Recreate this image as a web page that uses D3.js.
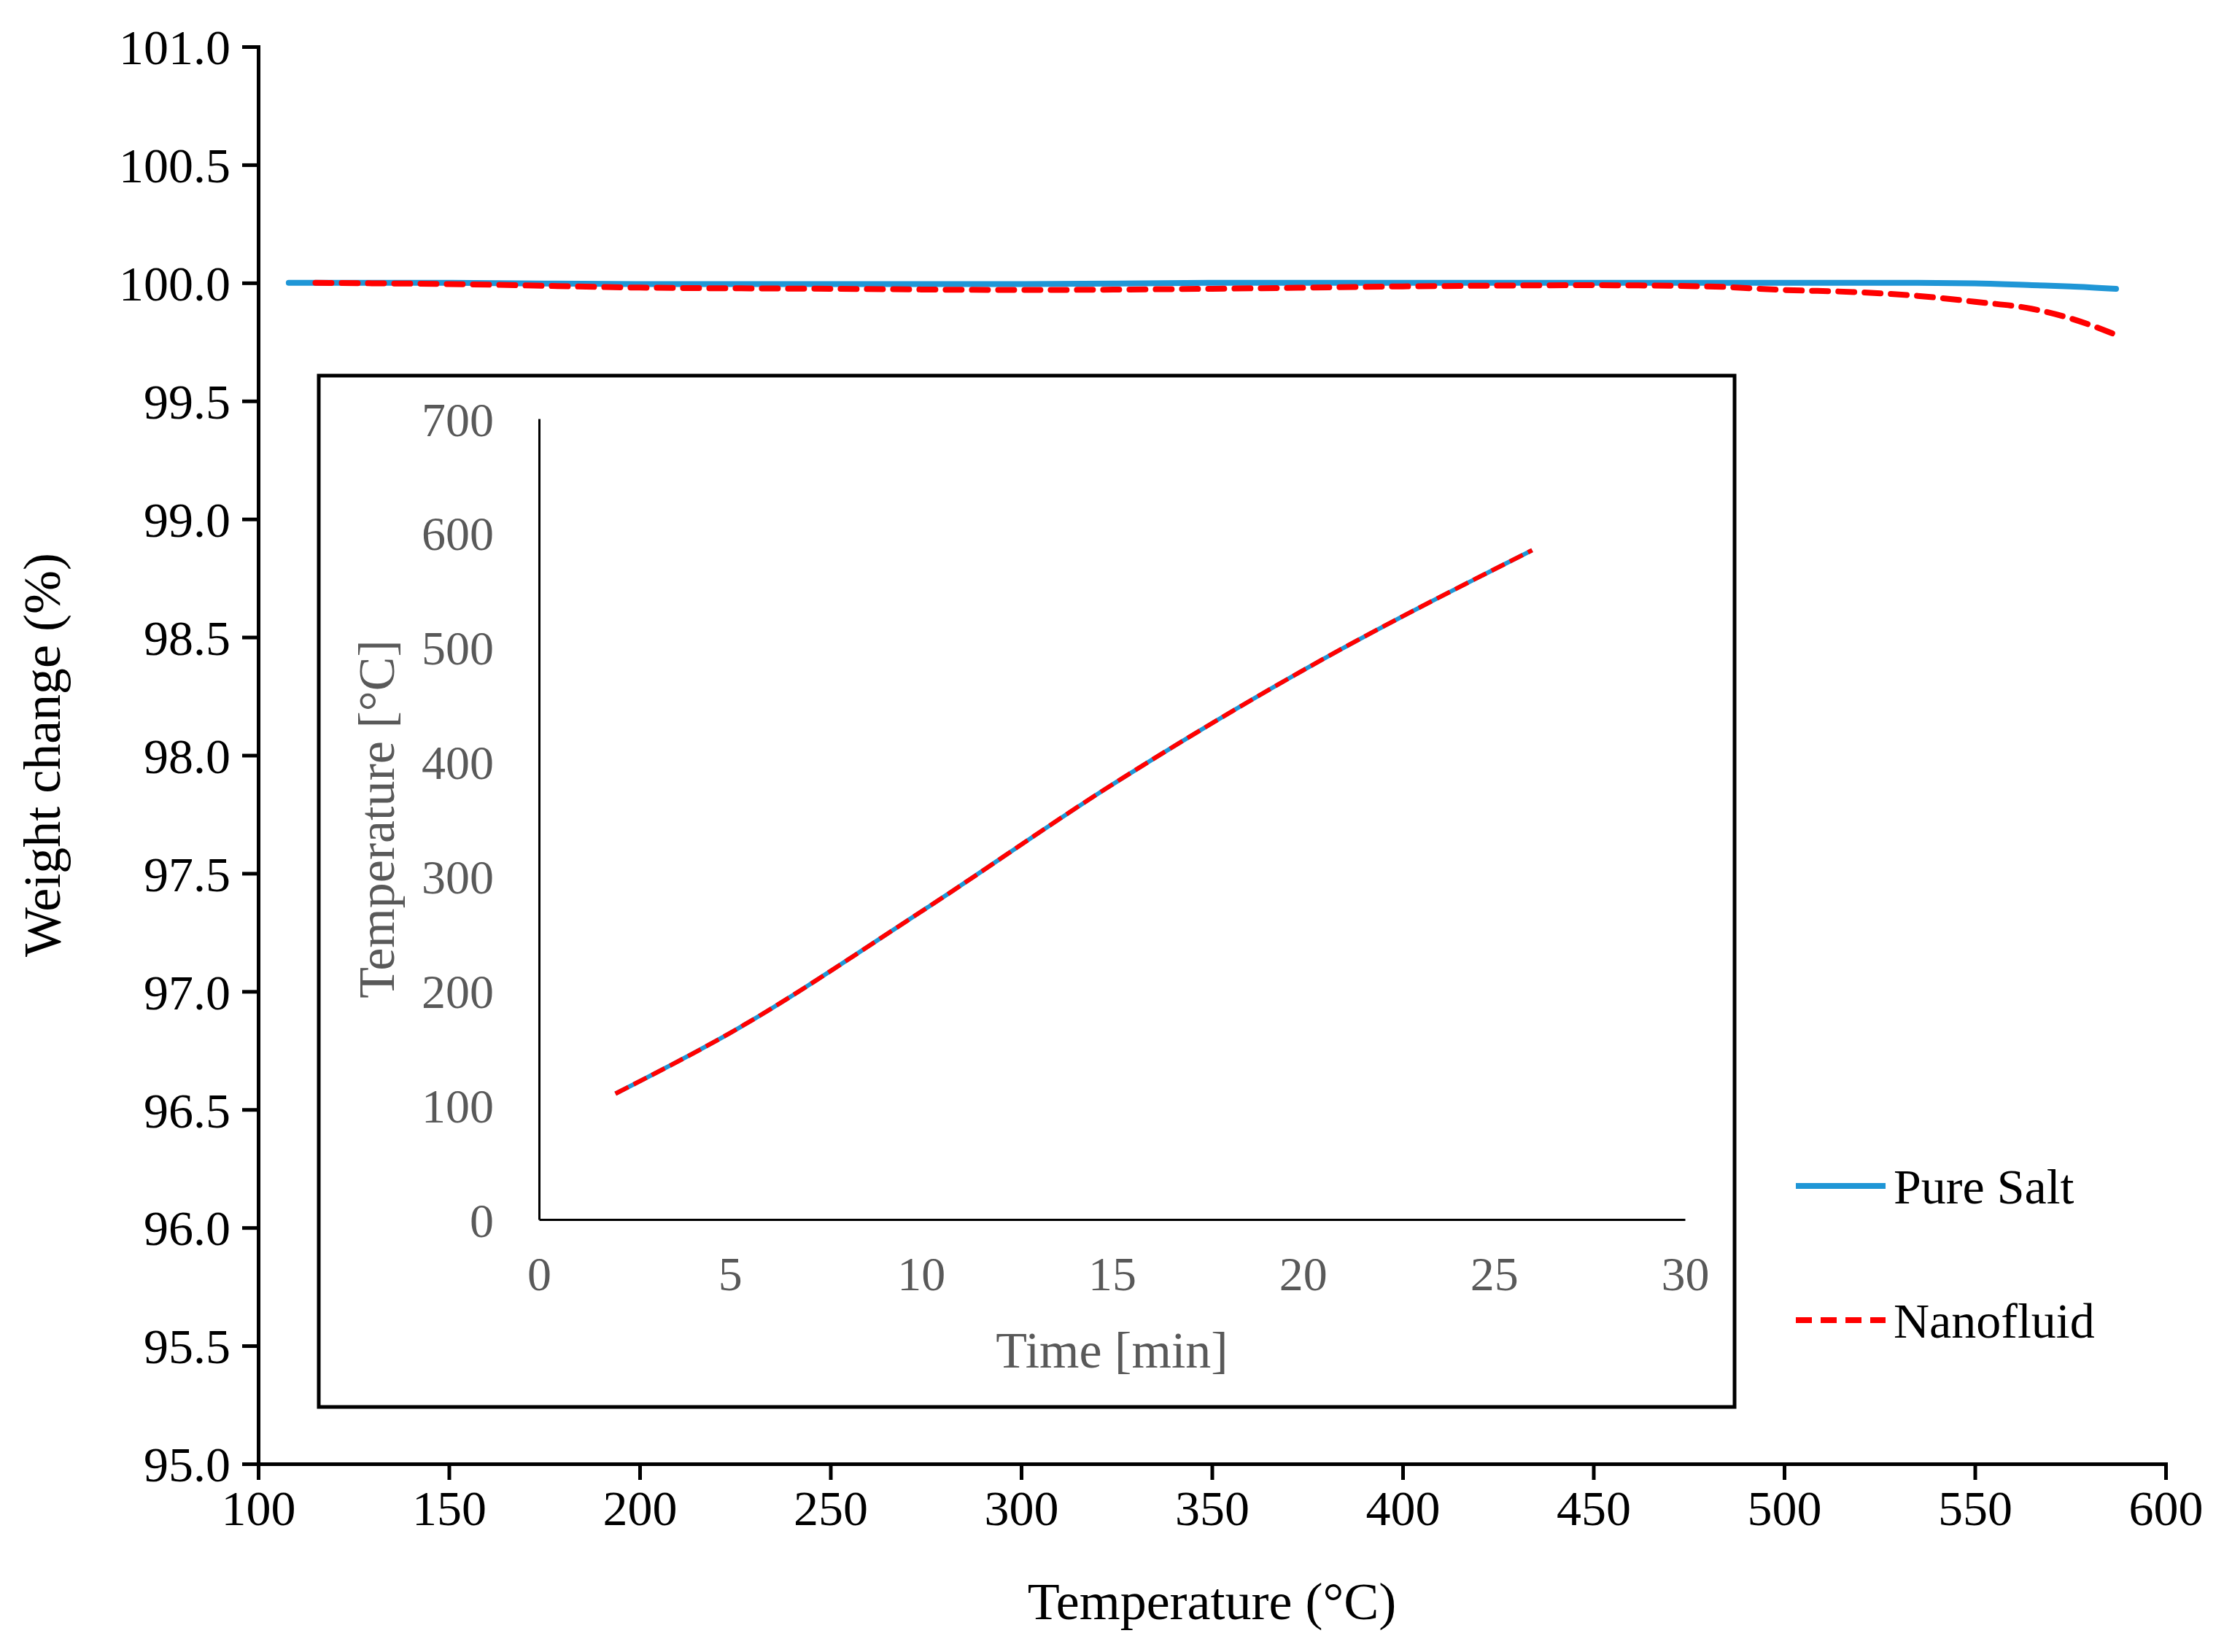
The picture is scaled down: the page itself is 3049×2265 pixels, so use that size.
<!DOCTYPE html>
<html><head><meta charset="utf-8">
<script src="https://cdn.jsdelivr.net/npm/d3@7"></script>
<style>body{margin:0;background:#fff} text{font-family:"Liberation Serif","Times New Roman",serif}</style>
</head><body><div class="container"></div>
<script>
const w = 3049
const h = 2265

// main chart data (Temperature °C -> weight %)
const saltTemp = [108, 150, 200, 250, 300, 350, 400, 450, 500, 530, 550, 565, 575, 587]
const saltWeight = [100.0, 100.0, 99.995, 99.995, 99.995, 100.0, 100.0, 100.0, 100.0, 100.0, 99.998, 99.99, 99.985, 99.975]
const nanoTemp = [115, 150, 200, 250, 300, 350, 400, 450, 480, 500, 520, 535, 550, 565, 575, 587]
const nanoWeight = [100.0, 99.995, 99.98, 99.975, 99.97, 99.975, 99.985, 99.99, 99.985, 99.97, 99.96, 99.945, 99.92, 99.89, 99.85, 99.78]
const xTicks = [100, 150, 200, 250, 300, 350, 400, 450, 500, 550, 600]
const yTicks = [95, 95.5, 96, 96.5, 97, 97.5, 98, 98.5, 99, 99.5, 100, 100.5, 101]

// inset data (time min -> temperature °C)
const insetTime = [2, 5, 10, 15, 20, 26]
const insetTemp = [110, 163, 269, 380, 480, 585]
const insetXTicks = [0, 5, 10, 15, 20, 25, 30]
const insetYTicks = [0, 100, 200, 300, 400, 500, 600, 700]

const svg = d3.select(".container").append("svg").attr("width", w).attr("height", h)

const x = d3.scaleLinear().domain([100, 600]).range([354, 2969])
const y = d3.scaleLinear().domain([95, 101]).range([2007, 64])

svg.append("g").attr("transform", "translate(0,2007)")
  .call(d3.axisBottom(x).tickValues(xTicks).tickSize(22).tickPadding(14).tickFormat(d3.format("d")))
  .call(g => g.selectAll("text").attr("font-size", 68).attr("fill", "#000"))
svg.append("g").attr("transform", "translate(354,0)")
  .call(d3.axisLeft(y).tickValues(yTicks).tickSize(22).tickPadding(16).tickFormat(d3.format(".1f")))
  .call(g => g.selectAll("text").attr("font-size", 68).attr("fill", "#000").attr("dy", "0.35em"))
svg.selectAll(".domain, .tick line").attr("stroke", "#000").attr("stroke-width", 5)

svg.append("text").attr("x", (354 + 2969) / 2).attr("y", 2220).attr("text-anchor", "middle")
  .attr("font-size", 72).text("Temperature (°C)")
svg.append("text").attr("transform", "translate(82,1035) rotate(-90)").attr("text-anchor", "middle")
  .attr("font-size", 72).text("Weight change (%)")

const line = d3.line().curve(d3.curveMonotoneX)
svg.append("path").attr("d", line(saltTemp.map((t, i) => [x(t), y(saltWeight[i])])))
  .attr("fill", "none").attr("stroke", "#1f96d6").attr("stroke-width", 8).attr("stroke-linecap", "round")
svg.append("path").attr("d", line(nanoTemp.map((t, i) => [x(t), y(nanoWeight[i])])))
  .attr("fill", "none").attr("stroke", "#ff0000").attr("stroke-width", 8).attr("stroke-dasharray", "22,14").attr("stroke-linecap", "round")

// inset
svg.append("rect").attr("x", 437).attr("y", 515).attr("width", 1941).attr("height", 1414)
  .attr("fill", "#fff").attr("stroke", "#000").attr("stroke-width", 5)
const ix = d3.scaleLinear().domain([0, 30]).range([739, 2310])
const iy = d3.scaleLinear().domain([0, 700]).range([1672, 574])
svg.append("g").attr("transform", "translate(0,1672)")
  .call(d3.axisBottom(ix).tickValues(insetXTicks).tickSize(0).tickPadding(50))
  .call(g => g.selectAll("text").attr("font-size", 66).attr("fill", "#595959"))
  .call(g => g.select(".domain").attr("stroke", "#000").attr("stroke-width", 3))
svg.append("g").attr("transform", "translate(739,0)")
  .call(d3.axisLeft(iy).tickValues(insetYTicks).tickSize(0).tickPadding(62))
  .call(g => g.selectAll("text").attr("font-size", 66).attr("fill", "#595959").attr("dy", "0.35em"))
  .call(g => g.select(".domain").attr("stroke", "#000").attr("stroke-width", 3))
svg.append("text").attr("x", (739 + 2310) / 2).attr("y", 1875).attr("text-anchor", "middle")
  .attr("font-size", 70).attr("fill", "#595959").text("Time [min]")
svg.append("text").attr("transform", "translate(540,1123) rotate(-90)").attr("text-anchor", "middle")
  .attr("font-size", 70).attr("fill", "#595959").text("Temperature [°C]")

const il = d3.line().curve(d3.curveMonotoneX)
const ipts = insetTime.map((t, i) => [ix(t), iy(insetTemp[i])])
svg.append("path").attr("d", il(ipts)).attr("fill", "none").attr("stroke", "#1f96d6").attr("stroke-width", 6)
svg.append("path").attr("d", il(ipts)).attr("fill", "none").attr("stroke", "#ff0000").attr("stroke-width", 6).attr("stroke-dasharray", "20,8")

// legend
const keys = ["Pure Salt", "Nanofluid"]
const legend = svg.append("g")
keys.forEach((k, i) => {
  const ly = 1626 + i * 184
  legend.append("line").attr("x1", 2462).attr("x2", 2585).attr("y1", ly).attr("y2", ly)
    .attr("stroke", i ? "#ff0000" : "#1f96d6").attr("stroke-width", 8)
    .attr("stroke-dasharray", i ? "22,12" : null)
  legend.append("text").attr("x", 2596).attr("y", ly).attr("dy", "0.35em").attr("font-size", 68).text(k)
})
</script></body></html>
